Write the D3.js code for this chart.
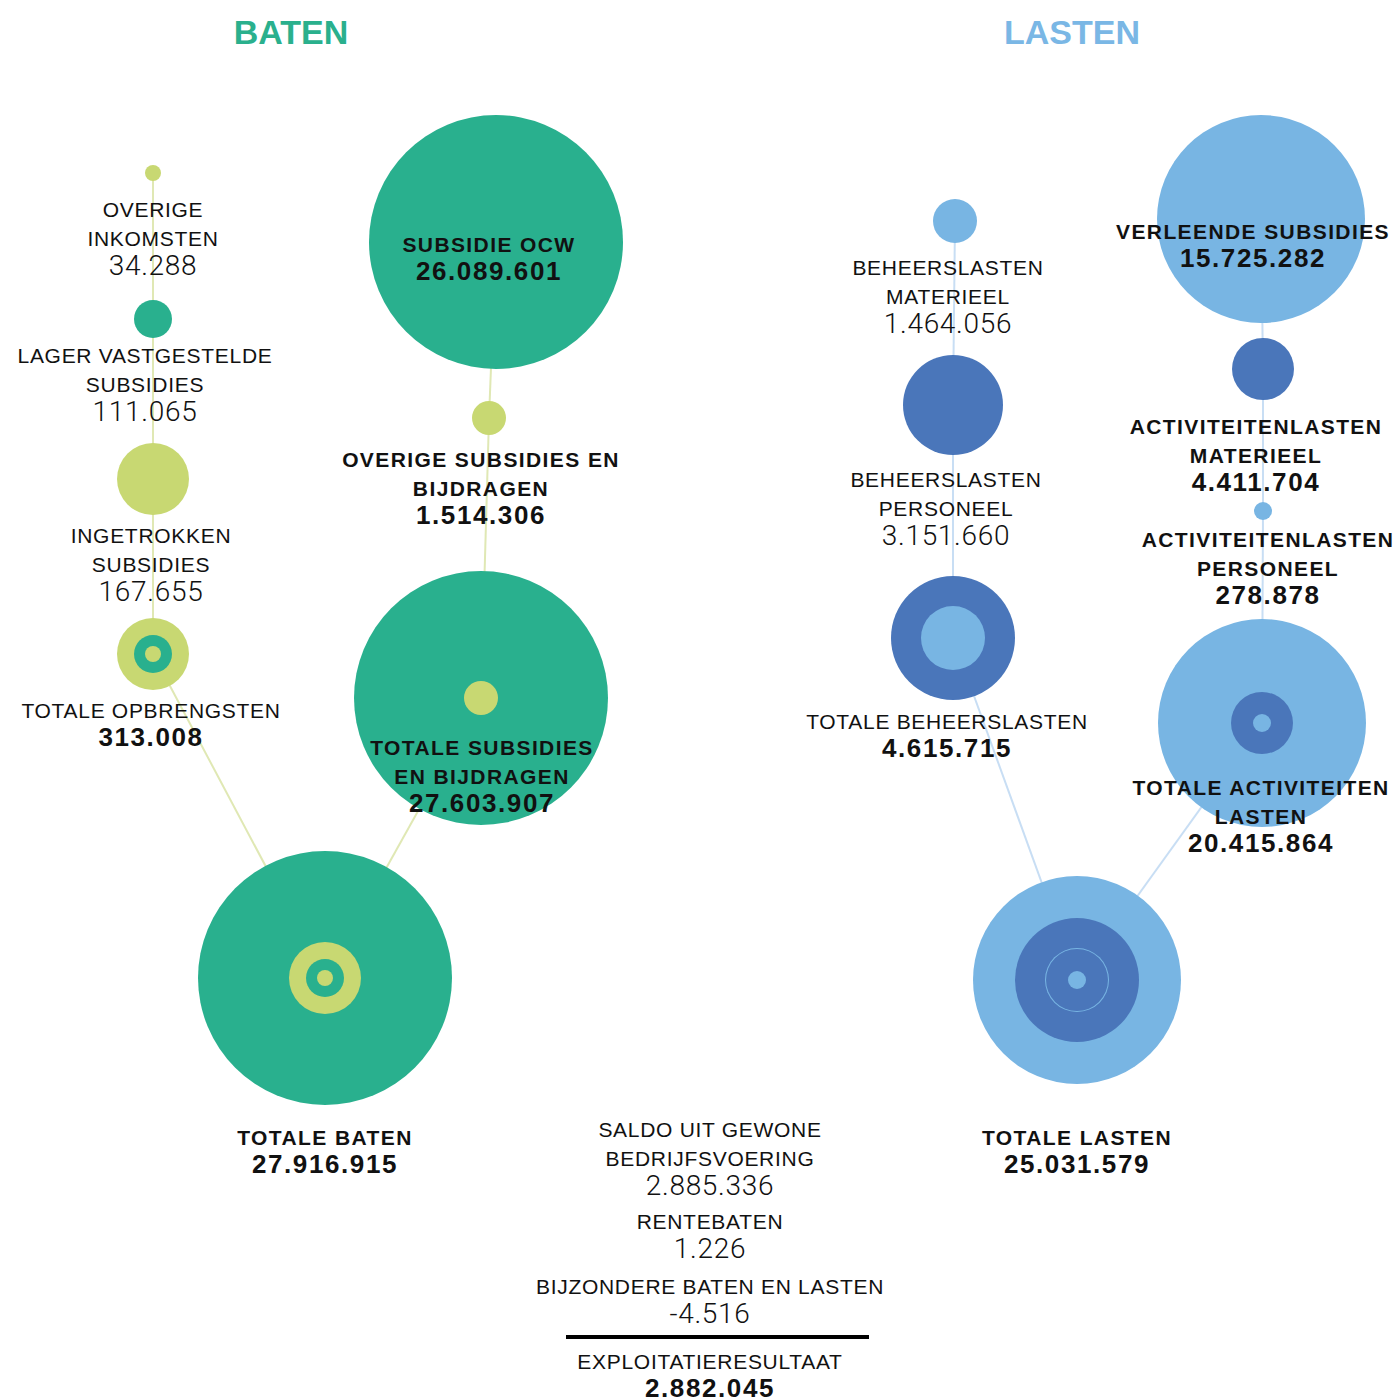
<!DOCTYPE html>
<html>
<head>
<meta charset="utf-8">
<script src="https://cdn.jsdelivr.net/npm/d3@7"></script>
<style>
  body { margin: 0; background: #fff; }
  text { font-family: "Liberation Sans", Arial, sans-serif; }
</style>
</head>
<body>
<div id="chart"></div>
<script>
// ---- data (labels: "|" marks a line break) ----
const batenNames = ["OVERIGE|INKOMSTEN", "LAGER VASTGESTELDE|SUBSIDIES", "INGETROKKEN|SUBSIDIES", "TOTALE OPBRENGSTEN",
  "SUBSIDIE OCW", "OVERIGE SUBSIDIES EN|BIJDRAGEN", "TOTALE SUBSIDIES|EN BIJDRAGEN", "TOTALE BATEN"];
const batenValues = [34288, 111065, 167655, 313008, 26089601, 1514306, 27603907, 27916915];

const lastenNames = ["BEHEERSLASTEN|MATERIEEL", "BEHEERSLASTEN|PERSONEEL", "TOTALE BEHEERSLASTEN",
  "VERLEENDE SUBSIDIES", "ACTIVITEITENLASTEN|MATERIEEL", "ACTIVITEITENLASTEN|PERSONEEL",
  "TOTALE ACTIVITEITEN|LASTEN", "TOTALE LASTEN"];
const lastenValues = [1464056, 3151660, 4615715, 15725282, 4411704, 278878, 20415864, 25031579];

const resultNames = ["SALDO UIT GEWONE|BEDRIJFSVOERING", "RENTEBATEN", "BIJZONDERE BATEN EN LASTEN", "EXPLOITATIERESULTAAT"];
const resultValues = [2885336, 1226, -4516, 2882045];

// parent links (index -> index) within each tree
const batenLinks = [[0, 1], [1, 2], [2, 3], [3, 7], [4, 5], [5, 6], [6, 7]];
const lastenLinks = [[0, 1], [1, 2], [2, 7], [3, 4], [4, 5], [5, 6], [6, 7]];

(() => {
  const width = 1398, height = 1400;
  const colors = { G: "#29b08e", Y: "#c8d872", L: "#78b5e3", D: "#4a76ba" };

  const nl = d3.formatLocale({ decimal: ",", thousands: ".", grouping: [3], currency: ["€", ""], minus: "-" });
  const fmt = nl.format(",d");

  const svg = d3.select("#chart").append("svg")
    .attr("width", width).attr("height", height)
    .attr("viewBox", [0, 0, width, height]);

  // layout: circle centre, rings (radius + colour key), label anchor, styles
  const batenLayout = [
    { x: 153, y: 173, rings: [[8, "Y"]], lx: 153, ly: 209, lb: false, vb: false },
    { x: 153, y: 319, rings: [[19, "G"]], lx: 145, ly: 355, lb: false, vb: false },
    { x: 153, y: 479, rings: [[36, "Y"]], lx: 151, ly: 535, lb: false, vb: false },
    { x: 153, y: 654, rings: [[36, "Y"], [19, "G"], [8, "Y"]], lx: 151, ly: 710, lb: false, vb: true },
    { x: 496, y: 242, rings: [[127, "G"]], lx: 489, ly: 244, lb: true, vb: true },
    { x: 489, y: 418, rings: [[17, "Y"]], lx: 481, ly: 459, lb: true, vb: true },
    { x: 481, y: 698, rings: [[127, "G"], [17, "Y"]], lx: 482, ly: 747, lb: true, vb: true },
    { x: 325, y: 978, rings: [[127, "G"], [36, "Y"], [19, "G"], [8, "Y"]], lx: 325, ly: 1137, lb: true, vb: true }
  ];
  const lastenLayout = [
    { x: 955, y: 221, rings: [[22, "L"]], lx: 948, ly: 267, lb: false, vb: false },
    { x: 953, y: 405, rings: [[50, "D"]], lx: 946, ly: 479, lb: false, vb: false },
    { x: 953, y: 638, rings: [[62, "D"], [32, "L"]], lx: 947, ly: 721, lb: false, vb: true },
    { x: 1261, y: 219, rings: [[104, "L"]], lx: 1253, ly: 231, lb: true, vb: true },
    { x: 1263, y: 369, rings: [[31, "D"]], lx: 1256, ly: 426, lb: true, vb: true },
    { x: 1263, y: 511, rings: [[9, "L"]], lx: 1268, ly: 539, lb: true, vb: true },
    { x: 1262, y: 723, rings: [[104, "L"], [31, "D"], [9, "L"]], lx: 1261, ly: 787, lb: true, vb: true },
    { x: 1077, y: 980, rings: [[104, "L"], [62, "D"], [32, "L"], [31, "D"], [9, "L"]], lx: 1077, ly: 1137, lb: true, vb: true }
  ];

  // draws a text block: label lines then the value
  // param g: group to draw in, x/y: centre of first line, label/value: content, lb/vb: bold flags
  const drawLabel = (g, x, y, label, value, lb, vb) => {
    const lines = label.split("|");
    const lineH = 29, valGap = 27;
    lines.forEach((t, i) => {
      const fs = 21;
      g.append("text")
        .attr("x", x).attr("y", y + i * lineH + fs * 0.36)
        .attr("text-anchor", "middle")
        .attr("font-size", fs)
        .attr("font-weight", lb ? 700 : 400)
        .attr("letter-spacing", lb ? 1.4 : 0.7)
        .attr("fill", "#111")
        .text(t);
    });
    const vy = y + (lines.length - 1) * lineH + valGap;
    const vfs = vb ? 26 : 28;
    g.append("text")
      .attr("x", x).attr("y", vy + vfs * 0.36)
      .attr("text-anchor", "middle")
      .attr("font-size", vfs)
      .attr("font-weight", vb ? 700 : 300)
      .attr("letter-spacing", vb ? 1.6 : 0.7)
      .style("font-family", vb ? null : "Roboto, 'Liberation Sans', sans-serif")
      .attr("fill", "#111")
      .text(fmt(value));
  };

  // draw one tree: links, circles, labels
  const drawTree = (names, values, layout, links, linkColor) => {
    const g = svg.append("g");
    g.append("g").selectAll("line")
      .data(links)
      .join("line")
      .attr("x1", d => layout[d[0]].x).attr("y1", d => layout[d[0]].y)
      .attr("x2", d => layout[d[1]].x).attr("y2", d => layout[d[1]].y)
      .attr("stroke", linkColor)
      .attr("stroke-width", 2);

    const nodes = g.append("g").selectAll("g")
      .data(layout)
      .join("g")
      .attr("transform", d => `translate(${d.x},${d.y})`);
    nodes.selectAll("circle")
      .data(d => d.rings)
      .join("circle")
      .attr("r", d => d[0])
      .attr("fill", d => colors[d[1]]);

    const labels = g.append("g");
    layout.forEach((d, i) => drawLabel(labels, d.lx, d.ly, names[i], values[i], d.lb, d.vb));
  };

  drawTree(batenNames, batenValues, batenLayout, batenLinks, "#e0e8b4");
  drawTree(lastenNames, lastenValues, lastenLayout, lastenLinks, "#c8def4");

  // headers
  svg.append("text").attr("x", 291).attr("y", 32 + 12)
    .attr("text-anchor", "middle").attr("font-size", 34).attr("font-weight", 700)
    .attr("fill", "#2ab08d").text("BATEN");
  svg.append("text").attr("x", 1072).attr("y", 32 + 12)
    .attr("text-anchor", "middle").attr("font-size", 34).attr("font-weight", 700)
    .attr("fill", "#7ab7e5").text("LASTEN");

  // result block at the bottom
  const res = svg.append("g");
  const resY = [1129, 1221, 1286, 1361];
  resultNames.forEach((n, i) => {
    const last = i === resultNames.length - 1;
    drawLabel(res, 710, resY[i], n, resultValues[i], false, last);
  });
  res.append("line")
    .attr("x1", 566).attr("x2", 869)
    .attr("y1", 1337).attr("y2", 1337)
    .attr("stroke", "#000").attr("stroke-width", 4);
})();
</script>
</body>
</html>
